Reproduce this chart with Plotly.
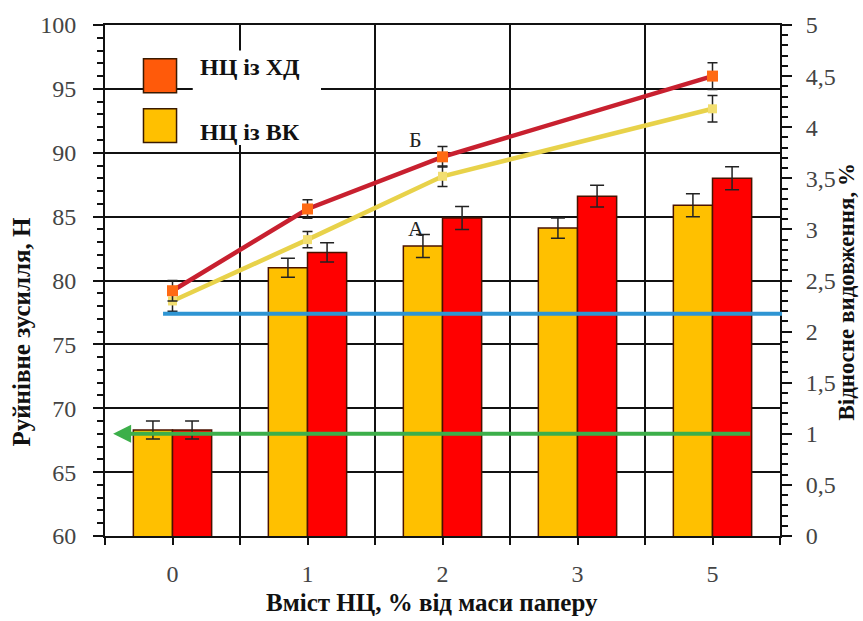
import plotly.graph_objects as go

# Категорії (вміст НЦ, % від маси паперу)
categories = ["0", "1", "2", "3", "5"]
x_pos = [0, 1, 2, 3, 4]

# Руйнівне зусилля, Н (стовпчики, ліва вісь)
force_vk = [68.3, 81.0, 82.7, 84.1, 85.9]
force_vk_err = [0.7, 0.75, 0.9, 0.8, 0.9]
force_xd = [68.3, 82.2, 84.9, 86.6, 88.0]
force_xd_err = [0.7, 0.75, 0.9, 0.85, 0.9]

# Відносне видовження, % (лінії, права вісь)
elong_xd = [2.40, 3.20, 3.71, None, 4.50]
elong_xd_err = [0.10, 0.09, 0.10, None, 0.13]
elong_vk = [2.30, 2.90, 3.52, None, 4.18]
elong_vk_err = [0.10, 0.08, 0.10, None, 0.13]

# Рівні горизонтальних ліній
blue_level = 77.4   # Н
green_level = 68.0  # Н

left_ticks = [60, 65, 70, 75, 80, 85, 90, 95, 100]
right_ticks = [0, 0.5, 1, 1.5, 2, 2.5, 3, 3.5, 4, 4.5, 5]
right_ticktext = ["0", "0,5", "1", "1,5", "2", "2,5", "3", "3,5", "4", "4,5", "5"]

FONT = "'Liberation Serif', 'Times New Roman', serif"
YELLOW = "#FFC000"
RED = "#FF0000"
ORANGE = "#FF6A13"
EDGE = "#4a1200"

fig = go.Figure()

fig.add_trace(go.Bar(
    x=x_pos, y=force_vk, name="НЦ із ВК",
    marker=dict(color=YELLOW, line=dict(color=EDGE, width=1.5)),
    error_y=dict(type="data", array=force_vk_err, color="#222", thickness=1.5, width=7),
    showlegend=False,
))
fig.add_trace(go.Bar(
    x=x_pos, y=force_xd, name="НЦ із ХД",
    marker=dict(color=RED, line=dict(color=EDGE, width=1.5)),
    error_y=dict(type="data", array=force_xd_err, color="#222", thickness=1.5, width=7),
    showlegend=False,
))

fig.add_trace(go.Scatter(
    x=x_pos, y=elong_vk, yaxis="y2", mode="lines+markers", connectgaps=True,
    line=dict(color="#E8D24A", width=4.5),
    marker=dict(symbol="square", size=9, color="#F2DE70"),
    error_y=dict(type="data", array=[e if e is not None else 0 for e in elong_vk_err],
                 color="#222", thickness=1.5, width=5),
    showlegend=False,
))
fig.add_trace(go.Scatter(
    x=x_pos, y=elong_xd, yaxis="y2", mode="lines+markers", connectgaps=True,
    line=dict(color="#C8202F", width=4.5),
    marker=dict(symbol="square", size=11, color=ORANGE),
    error_y=dict(type="data", array=[e if e is not None else 0 for e in elong_xd_err],
                 color="#222", thickness=1.5, width=5),
    showlegend=False,
))

shapes = [
    # синя горизонтальна лінія
    dict(type="line", xref="paper", yref="y", x0=0.086, x1=1.003,
         y0=blue_level, y1=blue_level, line=dict(color="#2E95D3", width=4)),
    # біла підкладка під підписами легенди
    dict(type="rect", xref="x", yref="y", x0=0.15, x1=1.10, y0=90.6, y1=98.0,
         fillcolor="white", line=dict(width=0), layer="between"),
    # маркери легенди
    dict(type="rect", xref="x", yref="y", x0=-0.215, x1=0.03, y0=94.7, y1=97.35,
         fillcolor="#FF5A0A", line=dict(color="#3a1a00", width=1.5)),
    dict(type="rect", xref="x", yref="y", x0=-0.215, x1=0.03, y0=90.8, y1=93.45,
         fillcolor=YELLOW, line=dict(color="#3a1a00", width=1.5)),
]

annotations = [
    # зелена лінія зі стрілкою
    dict(x=-0.44, y=green_level, xref="x", yref="y", ax=4.29, ay=green_level,
         axref="x", ayref="y", showarrow=True, arrowhead=2, arrowsize=0.9,
         arrowwidth=4, arrowcolor="#3CAF4A", text=""),
    dict(x=0.19, y=96.7, xref="x", yref="y", text="<b>НЦ із ХД</b>", showarrow=False,
         xanchor="left", font=dict(family=FONT, size=24, color="#111")),
    dict(x=0.19, y=91.6, xref="x", yref="y", text="<b>НЦ із ВК</b>", showarrow=False,
         xanchor="left", font=dict(family=FONT, size=24, color="#111")),
    dict(x=1.80, y=3.88, xref="x", yref="y2", text="Б", showarrow=False,
         font=dict(family=FONT, size=22, color="#222")),
    dict(x=1.80, y=3.01, xref="x", yref="y2", text="А", showarrow=False,
         font=dict(family=FONT, size=22, color="#222")),
    # назви осей
    dict(x=-0.123, y=0.40, xref="paper", yref="paper", text="<b>Руйнівне зусилля, Н</b>",
         textangle=-90, showarrow=False, xanchor="center", yanchor="middle",
         font=dict(family=FONT, size=25, color="#111")),
    dict(x=1.099, y=0.478, xref="paper", yref="paper", text="<b>Відносне видовження, %</b>",
         textangle=-90, showarrow=False, xanchor="center", yanchor="middle",
         font=dict(family=FONT, size=23, color="#111")),
    dict(x=0.484, y=-0.13, xref="paper", yref="paper", text="<b>Вміст НЦ, % від маси паперу</b>",
         showarrow=False, yanchor="middle",
         font=dict(family=FONT, size=25, color="#111")),
]

fig.update_layout(
    width=863, height=621,
    margin=dict(l=105, r=83, t=23, b=85),
    paper_bgcolor="white", plot_bgcolor="white",
    barmode="group", bargap=0.42, bargroupgap=0,
    font=dict(family=FONT, size=24, color="#333"),
    shapes=shapes, annotations=annotations,
    xaxis=dict(
        range=[-0.5, 4.5], tickmode="array", tickvals=x_pos, ticktext=categories,
        showgrid=False, zeroline=False,
        showline=True, linecolor="#111", linewidth=2, mirror=True,
        ticks="outside", ticklen=7, tickwidth=1.5, tickcolor="#111",
        ticklabelstandoff=8,
        tickfont=dict(family=FONT, size=24, color="#444"),
        minor=dict(tickmode="array", tickvals=[-0.5, 0.5, 1.5, 2.5, 3.5, 4.5],
                   ticks="outside", ticklen=7, tickwidth=1.5, tickcolor="#111",
                   showgrid=True, gridcolor="#111", gridwidth=1.5),
    ),
    yaxis=dict(
        range=[60, 100], tickmode="array", tickvals=left_ticks,
        showgrid=True, gridcolor="#111", gridwidth=1.5, zeroline=False,
        showline=True, linecolor="#111", linewidth=2,
        ticks="outside", ticklen=10, tickwidth=1.5, tickcolor="#111",
        ticklabelstandoff=12,
        tickfont=dict(family=FONT, size=24, color="#444"),
        minor=dict(dtick=1, tick0=60, ticks="outside", ticklen=6, tickwidth=1.5,
                   tickcolor="#111", showgrid=False),
    ),
    yaxis2=dict(
        range=[0, 5], overlaying="y", side="right", tickmode="array",
        tickvals=right_ticks, ticktext=right_ticktext,
        showgrid=False, zeroline=False,
        showline=True, linecolor="#111", linewidth=2,
        ticks="outside", ticklen=10, tickwidth=1.5, tickcolor="#111",
        ticklabelstandoff=9,
        tickfont=dict(family=FONT, size=24, color="#444"),
        minor=dict(dtick=0.1, tick0=0, ticks="outside", ticklen=6, tickwidth=1.5,
                   tickcolor="#111", showgrid=False),
    ),
)

fig.write_html("out.html")
